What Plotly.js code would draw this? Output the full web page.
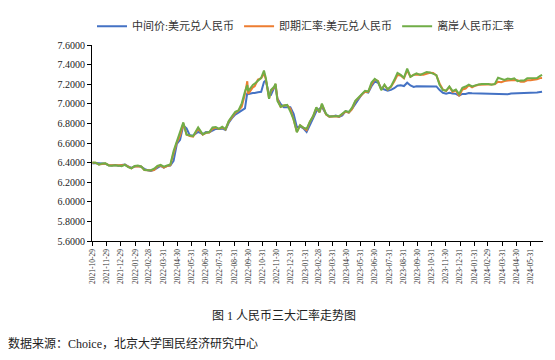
<!DOCTYPE html>
<html>
<head>
<meta charset="utf-8">
<script src="https://cdn.plot.ly/plotly-3.0.1.min.js"></script>
<style>html,body{margin:0;padding:0;background:#fff;}#chart{width:555px;height:360px;}</style>
</head>
<body>
<div id="chart"></div>
<script>
const dates = [
"2021-10-29","2021-11-05","2021-11-12","2021-11-19","2021-11-26","2021-12-03","2021-12-10","2021-12-17","2021-12-24","2021-12-31",
"2022-01-07","2022-01-14","2022-01-21","2022-01-28","2022-02-04","2022-02-11","2022-02-18","2022-02-25","2022-03-04","2022-03-11",
"2022-03-18","2022-03-25","2022-04-01","2022-04-08","2022-04-15","2022-04-22","2022-04-29","2022-05-06","2022-05-13","2022-05-20",
"2022-05-27","2022-06-03","2022-06-14","2022-06-24","2022-07-01","2022-07-08","2022-07-15","2022-07-22","2022-07-29","2022-08-05",
"2022-08-12","2022-08-19","2022-08-26","2022-09-02","2022-09-09","2022-09-16","2022-09-23","2022-09-28","2022-09-30","2022-10-10",
"2022-10-14","2022-10-21","2022-10-28","2022-11-03","2022-11-07","2022-11-14","2022-11-18","2022-11-25","2022-11-28","2022-12-02",
"2022-12-09","2022-12-16","2022-12-23","2022-12-30","2023-01-06","2023-01-13","2023-01-20","2023-01-27","2023-02-03","2023-02-10",
"2023-02-17","2023-02-24","2023-03-03","2023-03-08","2023-03-17","2023-03-24","2023-03-31","2023-04-07","2023-04-14","2023-04-21",
"2023-04-28","2023-05-05","2023-05-12","2023-05-19","2023-05-26","2023-06-02","2023-06-09","2023-06-16","2023-06-23","2023-06-30",
"2023-07-07","2023-07-14","2023-07-21","2023-07-28","2023-08-04","2023-08-11","2023-08-18","2023-08-25","2023-09-01","2023-09-08",
"2023-09-15","2023-09-22","2023-09-28","2023-10-06","2023-10-13","2023-10-20","2023-10-27","2023-11-03","2023-11-10","2023-11-17",
"2023-11-24","2023-12-01","2023-12-08","2023-12-15","2023-12-22","2023-12-29","2024-01-05","2024-01-12","2024-01-19","2024-01-26",
"2024-02-02","2024-02-09","2024-02-16","2024-02-23","2024-03-01","2024-03-08","2024-03-15","2024-03-22","2024-03-29","2024-04-05",
"2024-04-12","2024-04-19","2024-04-26","2024-05-03","2024-05-10","2024-05-17","2024-05-24","2024-05-31","2024-06-07","2024-06-14",
"2024-06-21","2024-06-25"
];

// 中间价:美元兑人民币
const midRate = [
6.3907,6.3959,6.3929,6.3890,6.3872,6.3738,6.3702,6.3745,6.3692,6.3757,
6.3794,6.3624,6.3458,6.3599,6.3651,6.3580,6.3354,6.3222,6.3140,6.3260,
6.3425,6.3660,6.3482,6.3659,6.3688,6.4179,6.5900,6.6332,6.7800,6.7487,
6.6766,6.6766,6.7128,6.6899,6.7114,6.7099,6.7265,6.7447,6.7437,6.7462,
6.7324,6.8065,6.8536,6.8906,6.9098,6.9305,6.9536,7.1107,7.0998,7.1103,
7.1103,7.1186,7.1230,7.2230,7.2400,7.0899,7.0899,7.1617,7.1769,7.0542,
6.9975,6.9650,6.9681,6.9646,6.8986,6.7611,6.7702,6.7492,6.7130,6.7913,
6.8519,6.9240,6.9525,6.9666,6.8949,6.8709,6.8717,6.8805,6.8659,6.8814,
6.9240,6.9114,6.9481,6.9967,7.0356,7.0965,7.1231,7.1149,7.1795,7.2258,
7.2157,7.1596,7.1456,7.1338,7.1418,7.1588,7.1850,7.1883,7.1811,7.2150,
7.1874,7.1729,7.1798,7.1789,7.1781,7.1796,7.1785,7.1772,7.1771,7.1400,
7.1125,7.1018,7.1123,7.1050,7.1012,7.0827,7.1006,7.1006,7.1097,7.1068,
7.1055,7.1064,7.1063,7.1064,7.1036,7.1012,7.0975,7.1004,7.0950,7.0947,
7.0967,7.1040,7.1056,7.1028,7.1030,7.1035,7.1102,7.1088,7.1086,7.1149,
7.1196,7.1225
];

// 即期汇率:美元兑人民币
const spotRate = [
6.3980,6.3980,6.3800,6.3880,6.3900,6.3740,6.3730,6.3715,6.3700,6.3730,
6.3770,6.3550,6.3410,6.3630,6.3600,6.3600,6.3240,6.3180,6.3190,6.3230,
6.3590,6.3700,6.3480,6.3640,6.3730,6.4950,6.6050,6.6760,6.7980,6.6870,
6.6720,6.6660,6.7470,6.6840,6.7040,6.7060,6.7440,6.7560,6.7440,6.7600,
6.7370,6.8190,6.8620,6.9060,6.9320,6.9700,7.0985,7.2300,7.1000,7.1680,
7.1790,7.2470,7.2600,7.3100,7.2500,7.0550,7.1300,7.1660,7.2000,7.0500,
6.9670,6.9820,6.9870,6.9500,6.8380,6.7140,6.7800,6.7530,6.7320,6.8160,
6.8700,6.9580,6.9130,6.9950,6.8900,6.8690,6.8720,6.8720,6.8690,6.8920,
6.9200,6.9100,6.9450,7.0250,7.0600,7.0980,7.1240,7.1220,7.1970,7.2490,
7.2340,7.1450,7.1900,7.1450,7.1720,7.2280,7.2940,7.2890,7.2600,7.3420,
7.2760,7.2970,7.3000,7.3000,7.2960,7.3100,7.3170,7.3150,7.2900,7.2050,
7.1450,7.1300,7.1720,7.1200,7.1360,7.0800,7.1460,7.1560,7.1900,7.1670,
7.1850,7.1940,7.1940,7.1970,7.1990,7.1950,7.1990,7.2250,7.2200,7.2330,
7.2380,7.2400,7.2440,7.2400,7.2240,7.2250,7.2400,7.2410,7.2420,7.2500,
7.2620,7.2630
];

// 离岸人民币汇率
const offshoreRate = [
6.4000,6.3985,6.3790,6.3920,6.3930,6.3710,6.3690,6.3730,6.3690,6.3620,
6.3780,6.3530,6.3420,6.3660,6.3710,6.3610,6.3250,6.3210,6.3220,6.3380,
6.3660,6.3760,6.3580,6.3700,6.3800,6.5180,6.6200,6.7000,6.8100,6.6850,
6.6750,6.6700,6.7600,6.6880,6.7050,6.7120,6.7580,6.7630,6.7450,6.7670,
6.7410,6.8240,6.8730,6.9180,6.9320,7.0050,7.1260,7.1900,7.1300,7.1930,
7.2050,7.2350,7.2650,7.3400,7.2650,7.0500,7.1400,7.1740,7.2050,7.0300,
6.9700,6.9830,6.9890,6.9200,6.8400,6.7100,6.7810,6.7560,6.7450,6.8180,
6.8750,6.9650,6.9130,7.0030,6.8950,6.8700,6.8750,6.8740,6.8730,6.8950,
6.9260,6.9160,6.9600,7.0310,7.0630,7.0960,7.1330,7.1250,7.2160,7.2550,
7.2280,7.1390,7.1950,7.1480,7.1780,7.2420,7.3150,7.2950,7.2650,7.3600,
7.2750,7.2950,7.3100,7.2950,7.3080,7.3250,7.3200,7.3050,7.2920,7.1900,
7.1400,7.1350,7.1780,7.1300,7.1450,7.1000,7.1630,7.1760,7.1950,7.1780,
7.1900,7.1980,7.2020,7.2050,7.2030,7.1950,7.2030,7.2650,7.2520,7.2430,
7.2580,7.2500,7.2600,7.2300,7.2380,7.2380,7.2600,7.2600,7.2550,7.2620,
7.2850,7.2950
];

const tickLabels = [
"2021-10-29","2021-11-29","2021-12-29","2022-01-29","2022-02-28","2022-03-31","2022-04-30","2022-05-31",
"2022-06-30","2022-07-31","2022-08-31","2022-09-30","2022-10-31","2022-11-30","2022-12-31","2023-01-31",
"2023-02-28","2023-03-31","2023-04-30","2023-05-31","2023-06-30","2023-07-31","2023-08-31","2023-09-30",
"2023-10-31","2023-11-30","2023-12-31","2024-01-31","2024-02-29","2024-03-31","2024-04-30","2024-05-31"
];

const seriesNames = ["中间价:美元兑人民币","即期汇率:美元兑人民币","离岸人民币汇率"];
const seriesColors = ["#4472C4","#ED7D31","#70AD47"];
const seriesValues = [midRate, spotRate, offshoreRate];

const traces = seriesValues.map((vals, i) => ({
  type: "scatter",
  mode: "lines",
  x: dates,
  y: vals,
  name: seriesNames[i],
  line: {color: seriesColors[i], width: 2}
}));

const serif = "'Times New Roman', 'Liberation Serif', 'Noto Sans CJK SC', serif";
const cjk = "'Liberation Serif', 'Noto Sans CJK SC', sans-serif";

const layout = {
  width: 555,
  height: 360,
  margin: {l: 92, r: 12, t: 37, b: 119},
  paper_bgcolor: "#ffffff",
  plot_bgcolor: "#ffffff",
  showlegend: true,
  legend: {
    orientation: "h",
    x: 0.0,
    xanchor: "left",
    y: 1.17,
    yanchor: "top",
    font: {family: cjk, size: 11, color: "#333333"},
    bgcolor: "rgba(0,0,0,0)"
  },
  xaxis: {
    type: "date",
    range: ["2021-10-28", "2024-06-27"],
    tickmode: "array",
    tickvals: tickLabels,
    ticktext: tickLabels,
    tickangle: -90,
    tickfont: {family: serif, size: 7.5, color: "#333333"},
    showgrid: false,
    zeroline: false,
    showline: true,
    linecolor: "#000000",
    linewidth: 1,
    ticks: "outside",
    ticklen: 4,
    tickcolor: "#000000"
  },
  yaxis: {
    range: [5.6, 7.6],
    tickmode: "linear",
    tick0: 5.6,
    dtick: 0.2,
    tickformat: ".4f",
    tickfont: {family: serif, size: 10, color: "#222222"},
    showgrid: false,
    zeroline: false,
    showline: true,
    linecolor: "#000000",
    linewidth: 1,
    ticks: "outside",
    ticklen: 4,
    tickcolor: "#000000"
  },
  annotations: [
    {
      text: "图 1 人民币三大汇率走势图",
      xref: "paper", yref: "paper",
      x: 0.4257, y: -0.382,
      xanchor: "center", yanchor: "middle",
      showarrow: false,
      font: {family: cjk, size: 12, color: "#222222"}
    },
    {
      text: "数据来源：Choice，北京大学国民经济研究中心",
      xref: "paper", yref: "paper",
      x: -0.1907, y: -0.5245,
      xanchor: "left", yanchor: "middle",
      showarrow: false,
      font: {family: cjk, size: 12, color: "#222222"}
    }
  ]
};

Plotly.newPlot("chart", traces, layout, {displayModeBar: false, staticPlot: true});
</script>
</body>
</html>
